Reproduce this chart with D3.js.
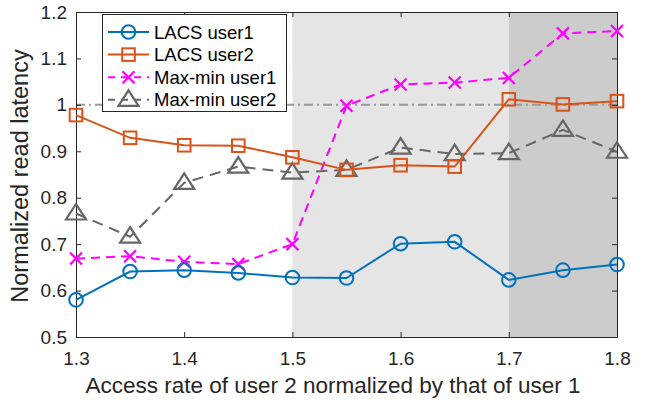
<!DOCTYPE html>
<html><head><meta charset="utf-8">
<script src="https://cdn.jsdelivr.net/npm/d3@7"></script>
<style>body{margin:0;background:#fff;} svg{display:block;font-family:"Liberation Sans",Arial,sans-serif;}</style>
</head><body>
<svg id="c" width="645" height="405"></svg>
<script>
const xs = [1.3,1.35,1.4,1.45,1.5,1.55,1.6,1.65,1.7,1.75,1.8];
const lacsUser1 = [0.580,0.641,0.644,0.638,0.628,0.627,0.701,0.705,0.623,0.644,0.656];
const lacsUser2 = [0.978,0.929,0.913,0.912,0.887,0.860,0.870,0.867,1.012,1.001,1.008];
const maxminUser1 = [0.669,0.674,0.662,0.657,0.700,0.998,1.044,1.048,1.058,1.154,1.159];
const maxminUser2 = [0.766,0.716,0.832,0.867,0.854,0.860,0.908,0.894,0.896,0.946,0.899];
const xTicks = [1.3,1.4,1.5,1.6,1.7,1.8];
const yTicks = [0.5,0.6,0.7,0.8,0.9,1.0,1.1,1.2];
const seriesNames = ["LACS user1","LACS user2","Max-min user1","Max-min user2"];
const shadedRegions = [[1.5,1.7],[1.7,1.8]];

const svg = d3.select("#c");
const L=76,R=617,T=12,B=337;
const x = d3.scaleLinear().domain([1.3,1.8]).range([L,R]);
const y = d3.scaleLinear().domain([0.5,1.2]).range([B,T]);

const shadeCols = ["#e5e5e5","#cccccc"];
shadedRegions.forEach((r,i)=>{
  svg.append("rect").attr("x",x(r[0])).attr("y",T).attr("width",x(r[1])-x(r[0])).attr("height",B-T).attr("fill",shadeCols[i]);
});

// reference line at 1
svg.append("line").attr("x1",L).attr("x2",R).attr("y1",y(1)).attr("y2",y(1))
  .attr("stroke","#999").attr("stroke-width",2).attr("stroke-dasharray","9,4,2,4");

// axes
const ac="#262626";
const gx=svg.append("g").attr("transform",`translate(0,${B})`).call(d3.axisBottom(x).tickValues(xTicks).tickFormat(d3.format(".1f")).tickSizeInner(-5).tickSizeOuter(0).tickPadding(15));
const gy=svg.append("g").attr("transform",`translate(${L},0)`).call(d3.axisLeft(y).tickValues(yTicks).tickFormat(d=>d===1?"1":d3.format(".1f")(d)).tickSizeInner(-5).tickSizeOuter(0).tickPadding(9));
const gxt=svg.append("g").attr("transform",`translate(0,${T})`).call(d3.axisTop(x).tickValues(xTicks).tickFormat("").tickSizeInner(-5).tickSizeOuter(0));
const gyr=svg.append("g").attr("transform",`translate(${R},0)`).call(d3.axisRight(y).tickValues(yTicks).tickFormat("").tickSizeInner(-5).tickSizeOuter(0));
[gx,gy,gxt,gyr].forEach(g=>{
  g.selectAll("path").attr("stroke",ac).attr("stroke-width",1);
  g.selectAll("line").attr("stroke",ac);
  g.selectAll("text").attr("fill",ac).attr("font-size",19).attr("font-family","Liberation Sans, Arial, sans-serif");
});

const colors=["#0072BD","#D95319","#FF00FF","#666666"];
const data=[lacsUser1,lacsUser2,maxminUser1,maxminUser2];
const dashes=[null,null,"9,6","11,7"];
const line=d3.line().x((d,i)=>x(xs[i])).y(d=>y(d));

function marker(g,type,cx,cy,col){
  if(type===0) g.append("circle").attr("cx",cx).attr("cy",cy).attr("r",6.8).attr("fill","none").attr("stroke",col).attr("stroke-width",2);
  else if(type===1) g.append("rect").attr("x",cx-6.3).attr("y",cy-6.3).attr("width",12.6).attr("height",12.6).attr("fill","none").attr("stroke",col).attr("stroke-width",2);
  else if(type===2) g.append("path").attr("d",`M${cx-6},${cy-6}L${cx+6},${cy+6}M${cx-6},${cy+6}L${cx+6},${cy-6}`).attr("stroke",col).attr("stroke-width",2.2);
  else g.append("path").attr("d",`M${cx},${cy-9.5}L${cx+10},${cy+6}L${cx-10},${cy+6}Z`).attr("fill","none").attr("stroke",col).attr("stroke-width",2.2);
}

[3,2,1,0].forEach(k=>{
  const g=svg.append("g");
  g.append("path").attr("d",line(data[k])).attr("fill","none").attr("stroke",colors[k]).attr("stroke-width",2)
   .attr("stroke-dasharray",dashes[k]);
  data[k].forEach((v,i)=>marker(g,k,x(xs[i]),y(v),colors[k]));
});

// legend
const lg=svg.append("g");
lg.append("rect").attr("x",102.5).attr("y",14.5).attr("width",184).attr("height",97).attr("fill","#fff").attr("stroke",ac).attr("stroke-width",1);
seriesNames.forEach((n,k)=>{
  const yy=32+k*22.6;
  lg.append("line").attr("x1",108).attr("x2",149).attr("y1",yy).attr("y2",yy).attr("stroke",colors[k]).attr("stroke-width",2).attr("stroke-dasharray",dashes[k]?"7,6":null);
  marker(lg,k,128.5,yy,colors[k]);
  lg.append("text").attr("x",154).attr("y",yy+6.6).attr("font-size",18.5).attr("fill","#000").text(n);
});

svg.append("text").attr("x",333).attr("y",393).attr("text-anchor","middle").attr("font-size",22.5).attr("fill",ac).text("Access rate of user 2 normalized by that of user 1");
svg.append("text").attr("transform",`translate(28,176) rotate(-90)`).attr("text-anchor","middle").attr("font-size",23.5).attr("fill",ac).text("Normalized read latency");
</script>
</body></html>
